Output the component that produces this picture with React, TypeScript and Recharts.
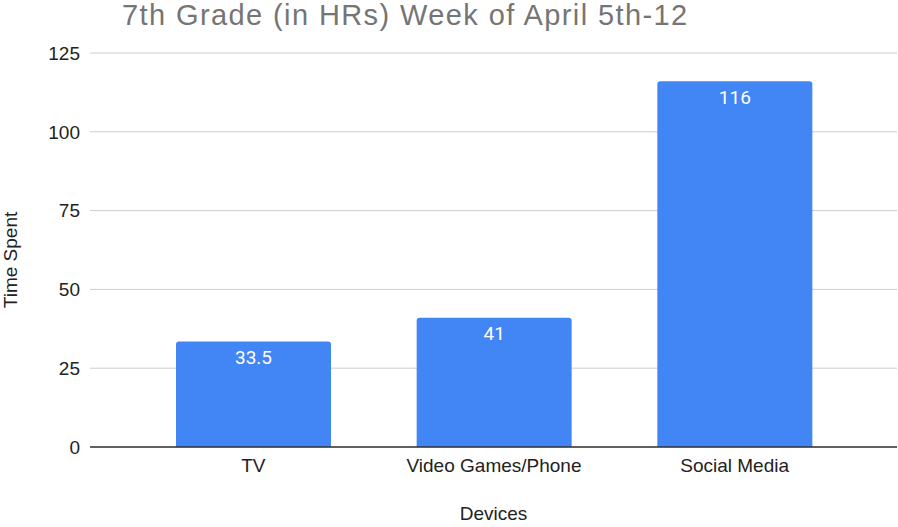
import React from 'react';
import { BarChart, Bar, XAxis, YAxis, CartesianGrid, LabelList, Label } from 'recharts';

const devices = ['TV', 'Video Games/Phone', 'Social Media'];
const hours = [33.5, 41, 116];
const yTicks = [0, 25, 50, 75, 100, 125];

const chartData = devices.map((name, i) => ({ name, hours: hours[i] }));

const font = 'Arial, "Liberation Sans", sans-serif';
const valueFont = 'Roboto, Arial, sans-serif';

export default function App() {
    return (
        <div style={{ position: 'absolute', left: 0, top: 0, width: 898, height: 527, background: '#fff', fontFamily: font }}>
            <div style={{ position: 'absolute', left: 122, top: -1, fontSize: 29, letterSpacing: 1.4, color: '#757575', whiteSpace: 'nowrap' }}>
                7th Grade (in HRs) Week of April 5th-12
            </div>
            <BarChart
                width={898}
                height={527}
                data={chartData}
                margin={{ top: 53, right: 1, left: 30, bottom: 30 }}
            >
                <CartesianGrid vertical={false} stroke="#cccccc" />
                <XAxis
                    dataKey="name"
                    height={50}
                    padding={{ left: 43, right: 42 }}
                    tickLine={false}
                    tickSize={0}
                    tickMargin={12}
                    axisLine={{ stroke: '#333333', strokeWidth: 1.5 }}
                    tick={{ fontSize: 19, fill: '#222222', fontFamily: font }}
                >
                    <Label
                        content={({ viewBox }: any) => (
                            <text x={viewBox.x + viewBox.width / 2} y={520} textAnchor="middle" fontSize={19} fill="#222222" fontFamily={font}>
                                Devices
                            </text>
                        )}
                    />
                </XAxis>
                <YAxis
                    width={60}
                    domain={[0, 125]}
                    ticks={yTicks}
                    axisLine={false}
                    tickLine={false}
                    tickSize={0}
                    tickMargin={10}
                    tick={{ fontSize: 19, fill: '#222222', fontFamily: font }}
                >
                    <Label
                        content={({ viewBox }: any) => {
                            const cy = viewBox.y + viewBox.height / 2 + 10;
                            return (
                                <text x={16.5} y={cy} transform={`rotate(-90 16.5 ${cy})`} textAnchor="middle" fontSize={19} fill="#222222" fontFamily={font}>
                                    Time Spent
                                </text>
                            );
                        }}
                    />
                </YAxis>
                <Bar dataKey="hours" fill="#4285f4" barSize={155} radius={[3, 3, 0, 0]} isAnimationActive={false}>
                    <LabelList dataKey="hours" position="insideTop" offset={9} fill="#ffffff" fontSize={19} fontFamily={valueFont} />
                </Bar>
            </BarChart>
        </div>
    );
}
